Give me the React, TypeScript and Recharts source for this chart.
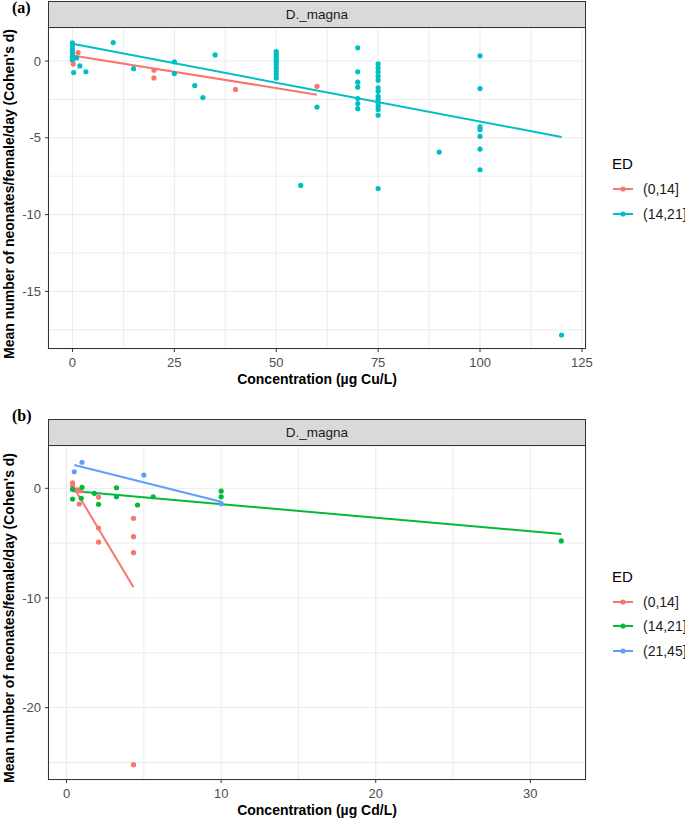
import React from "react";
import { ComposedChart, Scatter, Line, XAxis, YAxis, CartesianGrid } from "recharts";

type Pt = { x: number; y: number };

const FONT = "'Liberation Sans', Arial, Helvetica, sans-serif";

// (a) copper
const cuGroups = ["(0,14]", "(14,21]"];
const cuColors = ["#F8766D", "#00BFC4"];
const cuPoints014: Pt[] = [
  { x: 0, y: 0.3 }, { x: 0, y: 0.05 }, { x: 0.2, y: -0.2 }, { x: 1.4, y: 0.55 },
  { x: 20, y: -0.6 }, { x: 20, y: -1.1 }, { x: 40, y: -1.85 }, { x: 60, y: -1.65 },
];
const cuPoints1421: Pt[] = [
  { x: 0, y: 1.19 }, { x: 0, y: 0.97 }, { x: 0, y: 0.75 }, { x: 0, y: 0.53 }, { x: 0, y: 0.31 },
  { x: 0, y: 0.1 }, { x: 0.3, y: -0.75 }, { x: 1.8, y: -0.32 }, { x: 3.3, y: -0.7 }, { x: 1, y: 0.2 },
  { x: 10, y: 1.2 }, { x: 15, y: -0.5 }, { x: 25, y: -0.05 }, { x: 25, y: -0.82 }, { x: 30, y: -1.6 },
  { x: 32, y: -2.38 }, { x: 35, y: 0.4 },
  { x: 50, y: 0.62 }, { x: 50, y: 0.45 }, { x: 50, y: 0.3 }, { x: 50, y: 0.12 }, { x: 50, y: -0.05 },
  { x: 50, y: -0.25 }, { x: 50, y: -0.45 }, { x: 50, y: -0.65 }, { x: 50, y: -0.85 }, { x: 50, y: -1.1 },
  { x: 56, y: -8.1 }, { x: 60, y: -3.0 },
  { x: 70, y: 0.86 }, { x: 70, y: -0.7 }, { x: 70, y: -1.38 }, { x: 70, y: -1.7 }, { x: 70, y: -2.44 },
  { x: 70, y: -2.77 }, { x: 70, y: -3.1 },
  { x: 75, y: -0.18 }, { x: 75, y: -0.44 }, { x: 75, y: -0.7 }, { x: 75, y: -0.99 }, { x: 75, y: -1.25 },
  { x: 75, y: -1.75 }, { x: 75, y: -1.97 }, { x: 75, y: -2.3 }, { x: 75, y: -2.51 }, { x: 75, y: -2.73 },
  { x: 75, y: -2.95 }, { x: 75, y: -3.16 }, { x: 75, y: -3.53 }, { x: 75, y: -8.3 },
  { x: 90, y: -5.93 },
  { x: 100, y: 0.34 }, { x: 100, y: -1.79 }, { x: 100, y: -4.29 }, { x: 100, y: -4.47 },
  { x: 100, y: -4.9 }, { x: 100, y: -5.73 }, { x: 100, y: -7.08 },
  { x: 120, y: -17.84 },
];
const cuFit014: Pt[] = [{ x: 0, y: 0.36 }, { x: 60, y: -2.19 }];
const cuFit1421: Pt[] = [{ x: 0, y: 1.12 }, { x: 120, y: -4.95 }];
const cuXTicks = [0, 25, 50, 75, 100, 125];
const cuXMinor = [12.5, 37.5, 62.5, 87.5, 112.5];
const cuYTicks = [-15, -10, -5, 0];
const cuYMinor = [-17.5, -12.5, -7.5, -2.5];

// (b) cadmium
const cdGroups = ["(0,14]", "(14,21]", "(21,45]"];
const cdColors = ["#F8766D", "#00BA38", "#619CFF"];
const cdPoints014: Pt[] = [
  { x: 0.39, y: 0.51 }, { x: 0.39, y: 0.21 }, { x: 0.5, y: -0.15 }, { x: 0.71, y: -0.15 },
  { x: 0.93, y: -0.22 }, { x: 0.82, y: -1.43 }, { x: 2.07, y: -0.8 }, { x: 2.07, y: -3.62 },
  { x: 2.07, y: -4.9 }, { x: 4.33, y: -2.74 }, { x: 4.33, y: -4.41 }, { x: 4.33, y: -5.87 },
  { x: 4.33, y: -25.2 },
];
const cdPoints1421: Pt[] = [
  { x: 0.39, y: -0.09 }, { x: 0.39, y: -0.98 }, { x: 1.0, y: 0.09 }, { x: 0.95, y: -0.91 },
  { x: 1.8, y: -0.46 }, { x: 2.07, y: -1.45 }, { x: 3.23, y: 0.05 }, { x: 3.23, y: -0.77 },
  { x: 4.59, y: -1.52 }, { x: 5.6, y: -0.77 }, { x: 10, y: -0.25 }, { x: 10, y: -0.77 },
  { x: 32, y: -4.8 },
];
const cdPoints2145: Pt[] = [
  { x: 0.5, y: 1.51 }, { x: 1.0, y: 2.38 }, { x: 5.0, y: 1.21 }, { x: 10, y: -1.4 },
];
const cdFit014: Pt[] = [{ x: 0.39, y: 0.26 }, { x: 4.33, y: -9.03 }];
const cdFit1421: Pt[] = [{ x: 0.39, y: -0.25 }, { x: 32, y: -4.17 }];
const cdFit2145: Pt[] = [{ x: 0.5, y: 2.12 }, { x: 10, y: -1.22 }];
const cdXTicks = [0, 10, 20, 30];
const cdXMinor = [5, 15, 25];
const cdYTicks = [-20, -10, 0];
const cdYMinor = [-25, -15, -5];

type Series = { name: string; color: string; points: Pt[]; fit: Pt[] };

const cuSeries: Series[] = [
  { name: cuGroups[0], color: cuColors[0], points: cuPoints014, fit: cuFit014 },
  { name: cuGroups[1], color: cuColors[1], points: cuPoints1421, fit: cuFit1421 },
];
const cdSeries: Series[] = [
  { name: cdGroups[0], color: cdColors[0], points: cdPoints014, fit: cdFit014 },
  { name: cdGroups[1], color: cdColors[1], points: cdPoints1421, fit: cdFit1421 },
  { name: cdGroups[2], color: cdColors[2], points: cdPoints2145, fit: cdFit2145 },
];

const YTITLE = "Mean number of neonates/female/day (Cohen's d)";

type PanelProps = {
  top: number;
  letter: string;
  letterTop: number;
  series: Series[];
  xDomain: [number, number];
  yDomain: [number, number];
  xTicks: number[];
  xMinor: number[];
  yTicks: number[];
  yMinor: number[];
  xTitle: string;
  plotHeight: number;
};

function Panel(p: PanelProps) {
  const plotTop = 28;
  const left = 48;
  const right = 586;
  const height = plotTop + p.plotHeight + 36;
  const mid = plotTop + p.plotHeight / 2;

  const xTick = (t: any) => {
    if (!p.xTicks.includes(t.payload.value)) return <g />;
    return (
      <g>
        <line x1={t.x} x2={t.x} y1={t.y} y2={t.y + 3} stroke="#333" />
        <text x={t.x} y={t.y + 18} textAnchor="middle" fill="#4d4d4d" fontSize={13} fontFamily={FONT}>
          {t.payload.value}
        </text>
      </g>
    );
  };
  const yTick = (t: any) => {
    if (!p.yTicks.includes(t.payload.value)) return <g />;
    return (
      <g>
        <line x1={t.x - 3} x2={t.x} y1={t.y} y2={t.y} stroke="#333" />
        <text x={t.x - 7} y={t.y} dy="0.35em" textAnchor="end" fill="#4d4d4d" fontSize={13} fontFamily={FONT}>
          {t.payload.value}
        </text>
      </g>
    );
  };

  const span = 26 + (p.series.length - 1) * 24.5;
  const legendTitleY = mid - span / 2;

  return (
    <>
      <div
        style={{
          position: "absolute", left: 12, top: p.letterTop, fontFamily: "'Liberation Serif', 'Times New Roman', serif",
          fontWeight: "bold", fontSize: 16, lineHeight: "16px", color: "#000",
        }}
      >
        {p.letter}
      </div>
      <div style={{ position: "absolute", left: 0, top: p.top, width: 685, height }}>
        <div
          style={{
            position: "absolute", left, top: 1, width: right - left, height: plotTop - 1,
            background: "#d9d9d9", border: "1px solid #333", boxSizing: "border-box",
            display: "flex", alignItems: "center", justifyContent: "center",
            fontFamily: FONT, fontSize: 13.5, color: "#1a1a1a",
          }}
        >
          D._magna
        </div>
        <ComposedChart width={600} height={height} margin={{ top: plotTop, right: 14, bottom: 0, left: 0 }}>
          <CartesianGrid stroke="#ebebeb" strokeWidth={1} />
          <XAxis
            type="number"
            dataKey="x"
            domain={p.xDomain}
            ticks={[...p.xMinor, ...p.xTicks].sort((a, b) => a - b)}
            tick={xTick}
            tickSize={0}
            tickMargin={0}
            tickLine={false}
            axisLine={false}
            interval={0}
            height={36}
            allowDataOverflow
          />
          <YAxis
            type="number"
            dataKey="y"
            domain={p.yDomain}
            ticks={[...p.yMinor, ...p.yTicks].sort((a, b) => a - b)}
            tick={yTick}
            tickSize={0}
            tickMargin={0}
            tickLine={false}
            axisLine={false}
            interval={0}
            width={48}
            allowDataOverflow
          />
          {p.series.map((s) => (
            <Scatter
              key={"pts" + s.name}
              data={s.points}
              isAnimationActive={false}
              shape={(d: any) => <circle cx={d.cx} cy={d.cy} r={2.6} fill={s.color} />}
            />
          ))}
          {p.series.map((s) => (
            <Line
              key={"fit" + s.name}
              data={s.fit}
              dataKey="y"
              type="linear"
              stroke={s.color}
              strokeWidth={2}
              dot={false}
              activeDot={false}
              isAnimationActive={false}
            />
          ))}
        </ComposedChart>
        <div
          style={{
            position: "absolute", left, top: plotTop - 1, width: right - left, height: p.plotHeight + 1,
            border: "1px solid #333", boxSizing: "border-box", pointerEvents: "none",
          }}
        />
        <div
          style={{
            position: "absolute", left: 9, top: mid + 5, transform: "translate(-50%, -50%) rotate(-90deg)",
            whiteSpace: "nowrap", fontFamily: FONT, fontWeight: "bold", fontSize: 14, color: "#000",
          }}
        >
          {YTITLE}
        </div>
        <div
          style={{
            position: "absolute", left: (left + right) / 2, top: plotTop + p.plotHeight + 30,
            transform: "translate(-50%, -50%)", whiteSpace: "nowrap",
            fontFamily: FONT, fontWeight: "bold", fontSize: 14, color: "#000",
          }}
        >
          {p.xTitle}
        </div>
        <div
          style={{
            position: "absolute", left: 612, top: legendTitleY, transform: "translateY(-50%)",
            fontFamily: FONT, fontSize: 15, color: "#000",
          }}
        >
          ED
        </div>
        {p.series.map((s, i) => (
          <div
            key={"lg" + s.name}
            style={{
              position: "absolute", left: 613, top: legendTitleY + 26 + i * 24.5, transform: "translateY(-50%)",
              display: "flex", alignItems: "center", fontFamily: FONT, fontSize: 14, color: "#1a1a1a",
            }}
          >
            <svg width={20} height={10} style={{ marginRight: 10 }}>
              <line x1={0} x2={20} y1={5} y2={5} stroke={s.color} strokeWidth={2} />
              <circle cx={10} cy={5} r={2.6} fill={s.color} />
            </svg>
            <span>{s.name}</span>
          </div>
        ))}
      </div>
    </>
  );
}

export default function App() {
  return (
    <div style={{ position: "absolute", left: 0, top: 0, width: 685, height: 824, background: "#fff" }}>
      <Panel
        top={0}
        letter="(a)"
        letterTop={0}
        series={cuSeries}
        xDomain={[-6, 126]}
        yDomain={[-18.75, 2.15]}
        xTicks={cuXTicks}
        xMinor={cuXMinor}
        yTicks={cuYTicks}
        yMinor={cuYMinor}
        xTitle="Concentration (µg Cu/L)"
        plotHeight={321}
      />
      <Panel
        top={418}
        letter="(b)"
        letterTop={408}
        series={cdSeries}
        xDomain={[-1.2, 33.6]}
        yDomain={[-26.6, 3.86]}
        xTicks={cdXTicks}
        xMinor={cdXMinor}
        yTicks={cdYTicks}
        yMinor={cdYMinor}
        xTitle="Concentration (µg Cd/L)"
        plotHeight={334}
      />
    </div>
  );
}
